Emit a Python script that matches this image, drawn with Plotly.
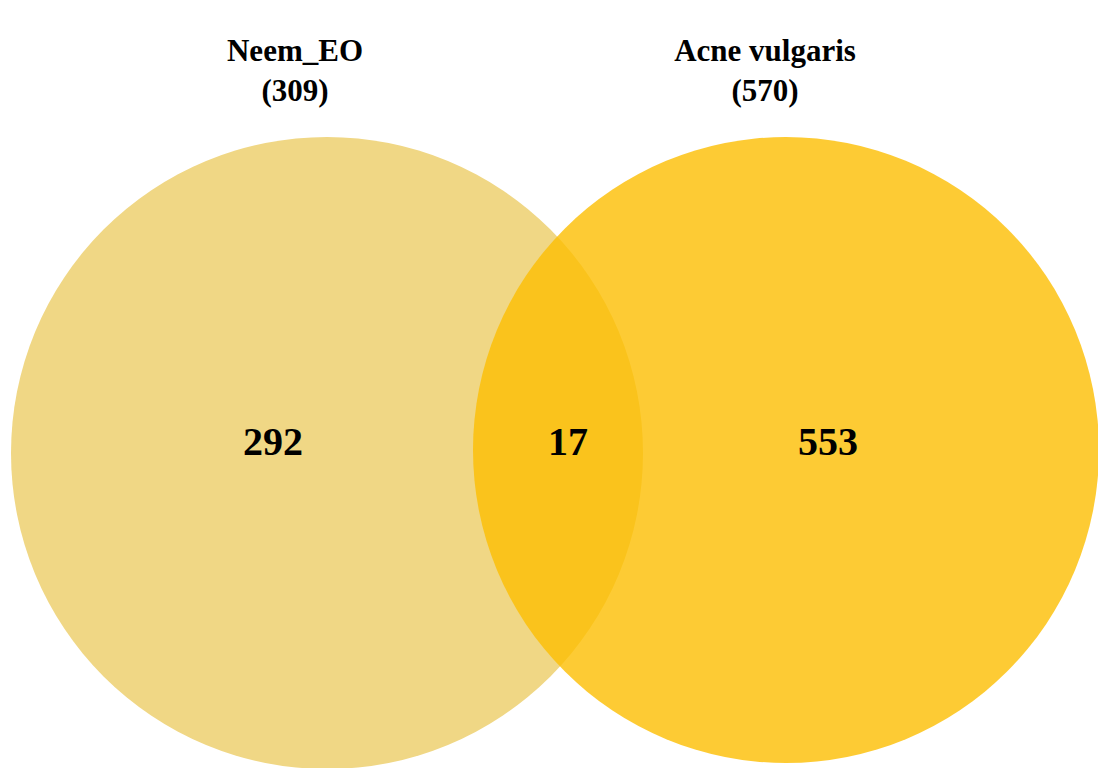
import plotly.graph_objects as go

set_names = ["Neem_EO", "Acne vulgaris"]
set_totals = [309, 570]
only_counts = [292, 553]
shared_count = 17

centers_x = [319, 778]
centers_y = [445, 442]
radii = [316, 313]
fills = ["rgb(240,215,133)", "rgba(252,190,1,0.8)"]

fig = go.Figure()
for cx, cy, r, col in zip(centers_x, centers_y, radii, fills):
    fig.add_shape(type="circle", x0=cx - r, x1=cx + r, y0=cy - r, y1=cy + r,
                  fillcolor=col, line=dict(width=0), layer="below")

font_big = dict(family="Liberation Serif", size=40, color="black")
font_lbl = dict(family="Liberation Serif", size=31, color="black")

fig.add_trace(go.Scatter(
    x=[265, 560, 820], y=[437, 437, 437], mode="text",
    text=[f"<b>{only_counts[0]}</b>", f"<b>{shared_count}</b>", f"<b>{only_counts[1]}</b>"],
    textfont=font_big, hoverinfo="skip"))

fig.add_trace(go.Scatter(
    x=[287, 757], y=[65, 65], mode="text",
    text=[f"<b>{n}<br>({t})</b>" for n, t in zip(set_names, set_totals)],
    textfont=font_lbl, hoverinfo="skip"))

fig.update_layout(
    width=1106, height=768, margin=dict(l=0, r=0, t=0, b=0),
    plot_bgcolor="white", paper_bgcolor="white", showlegend=False,
    xaxis=dict(range=[0, 1106], visible=False),
    yaxis=dict(range=[768, 0], visible=False),
)
fig.write_html("out.html")
